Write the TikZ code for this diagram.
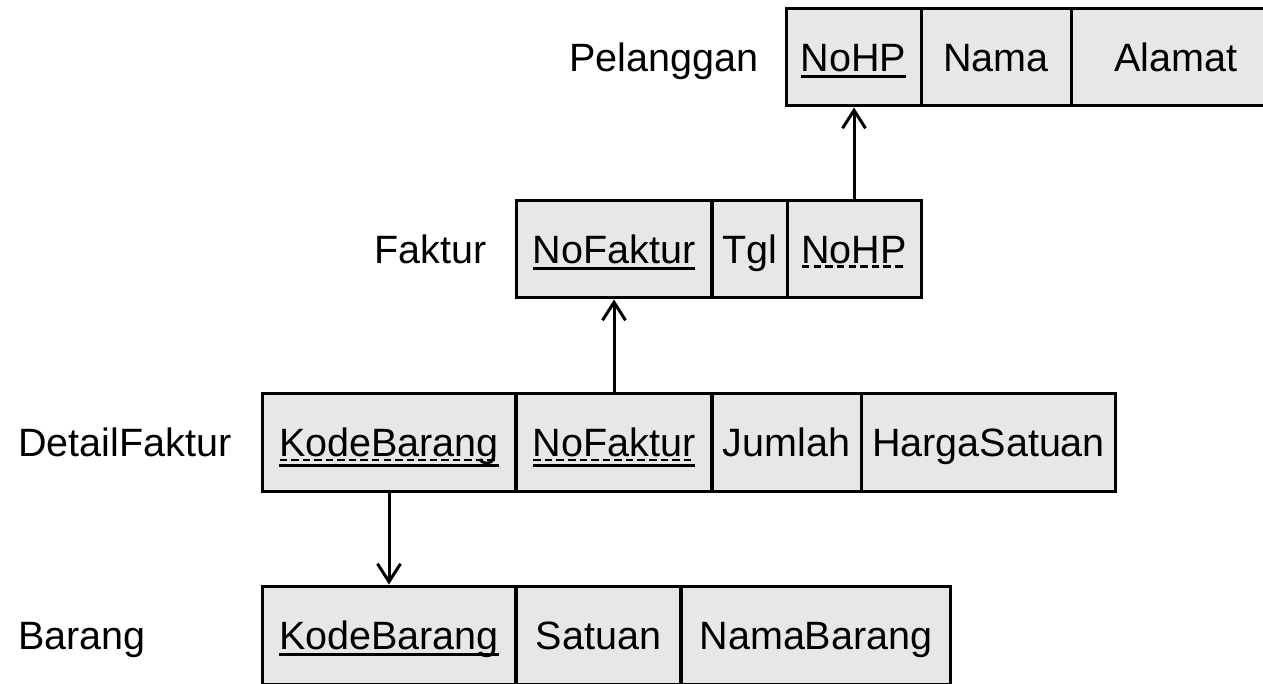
\documentclass[tikz,border=0pt]{standalone}
\usepackage{fontspec}
\setmainfont{Liberation Sans}
\usepackage{tikz}
\usetikzlibrary{arrows.meta,positioning}
\definecolor{cellgray}{RGB}{231,231,231}
% key underlines: solid = primary, dashed = foreign
\newcommand{\dashrule}[2]{\hbox to #1{\xleaders\hbox to 0.22cm{\rule[#2]{0.15cm}{0.05cm}\hss}\hfill}}
\newcommand{\pkey}[1]{\setbox0\hbox{#1}\rlap{#1}\rule[-0.14cm]{\wd0}{0.06cm}}
\newcommand{\fkey}[1]{\setbox0\hbox{#1}\rlap{#1}\dashrule{\wd0}{-0.09cm}}
\newcommand{\pfkey}[1]{\setbox0\hbox{#1}\rlap{#1}\rlap{\dashrule{\wd0}{-0.095cm}}\rule[-0.22cm]{\wd0}{0.06cm}}
\tikzstyle{cell}=[draw,fill=cellgray,line width=0.06cm,minimum height=1.96cm,inner sep=0pt,text height=0.57cm,text depth=0cm,font=\fontsize{22.5}{27}\selectfont]
\tikzstyle{relname}=[inner sep=0pt,text height=0.57cm,text depth=0cm,font=\fontsize{22.5}{27}\selectfont]
\tikzstyle{ref}=[line width=0.06cm,-{Straight Barb[length=0.36cm,width=0.46cm]}]

\begin{document}
\begin{tikzpicture}[x=0.02cm,y=-0.02cm]
\useasboundingbox (0,0) rectangle (1263,683);

% Pelanggan
\node[cell, minimum width=2.70cm] (p1) at (853.5, 57) {\pkey{NoHP}};
\node[cell, minimum width=3.00cm] (p2) at (996, 57) {Nama};
\node[cell, minimum width=4.20cm] (p3) at (1176, 57) {Alamat};
\node[relname, left=0.52cm of p1] (pl) {Pelanggan};

% Faktur
\node[cell, minimum width=3.92cm] (f1) at (614, 249) {\pkey{NoFaktur}};
\node[cell, minimum width=1.50cm] (f2) at (749.5, 249) {Tgl};
\node[cell, minimum width=2.68cm] (f3) at (854, 249) {\fkey{NoHP}};
\node[relname, left=0.56cm of f1] (fk) {Faktur};

% DetailFaktur
\node[cell, minimum width=5.08cm] (d1) at (389, 442) {\pfkey{KodeBarang}};
\node[cell, minimum width=3.92cm] (d2) at (614, 442) {\pfkey{NoFaktur}};
\node[cell, minimum width=2.98cm] (d3) at (786.5, 442) {Jumlah};
\node[cell, minimum width=5.10cm] (d4) at (988.5, 442) {HargaSatuan};
\node[relname, anchor=west] (df) at (18, 442) {DetailFaktur};

% Barang
\node[cell, minimum width=5.08cm] (b1) at (389, 635) {\pkey{KodeBarang}};
\node[cell, minimum width=3.30cm] (b2) at (598.5, 635) {Satuan};
\node[cell, minimum width=5.40cm] (b3) at (816, 635) {NamaBarang};
\node[relname, anchor=west] (br) at (18, 635) {Barang};

\draw[ref] (f3.north) -- (f3.north |- p1.south);
\draw[ref] (d2.north) -- (f1.south);
\draw[ref] (d1.south) -- (b1.north);

\end{tikzpicture}
\end{document}
